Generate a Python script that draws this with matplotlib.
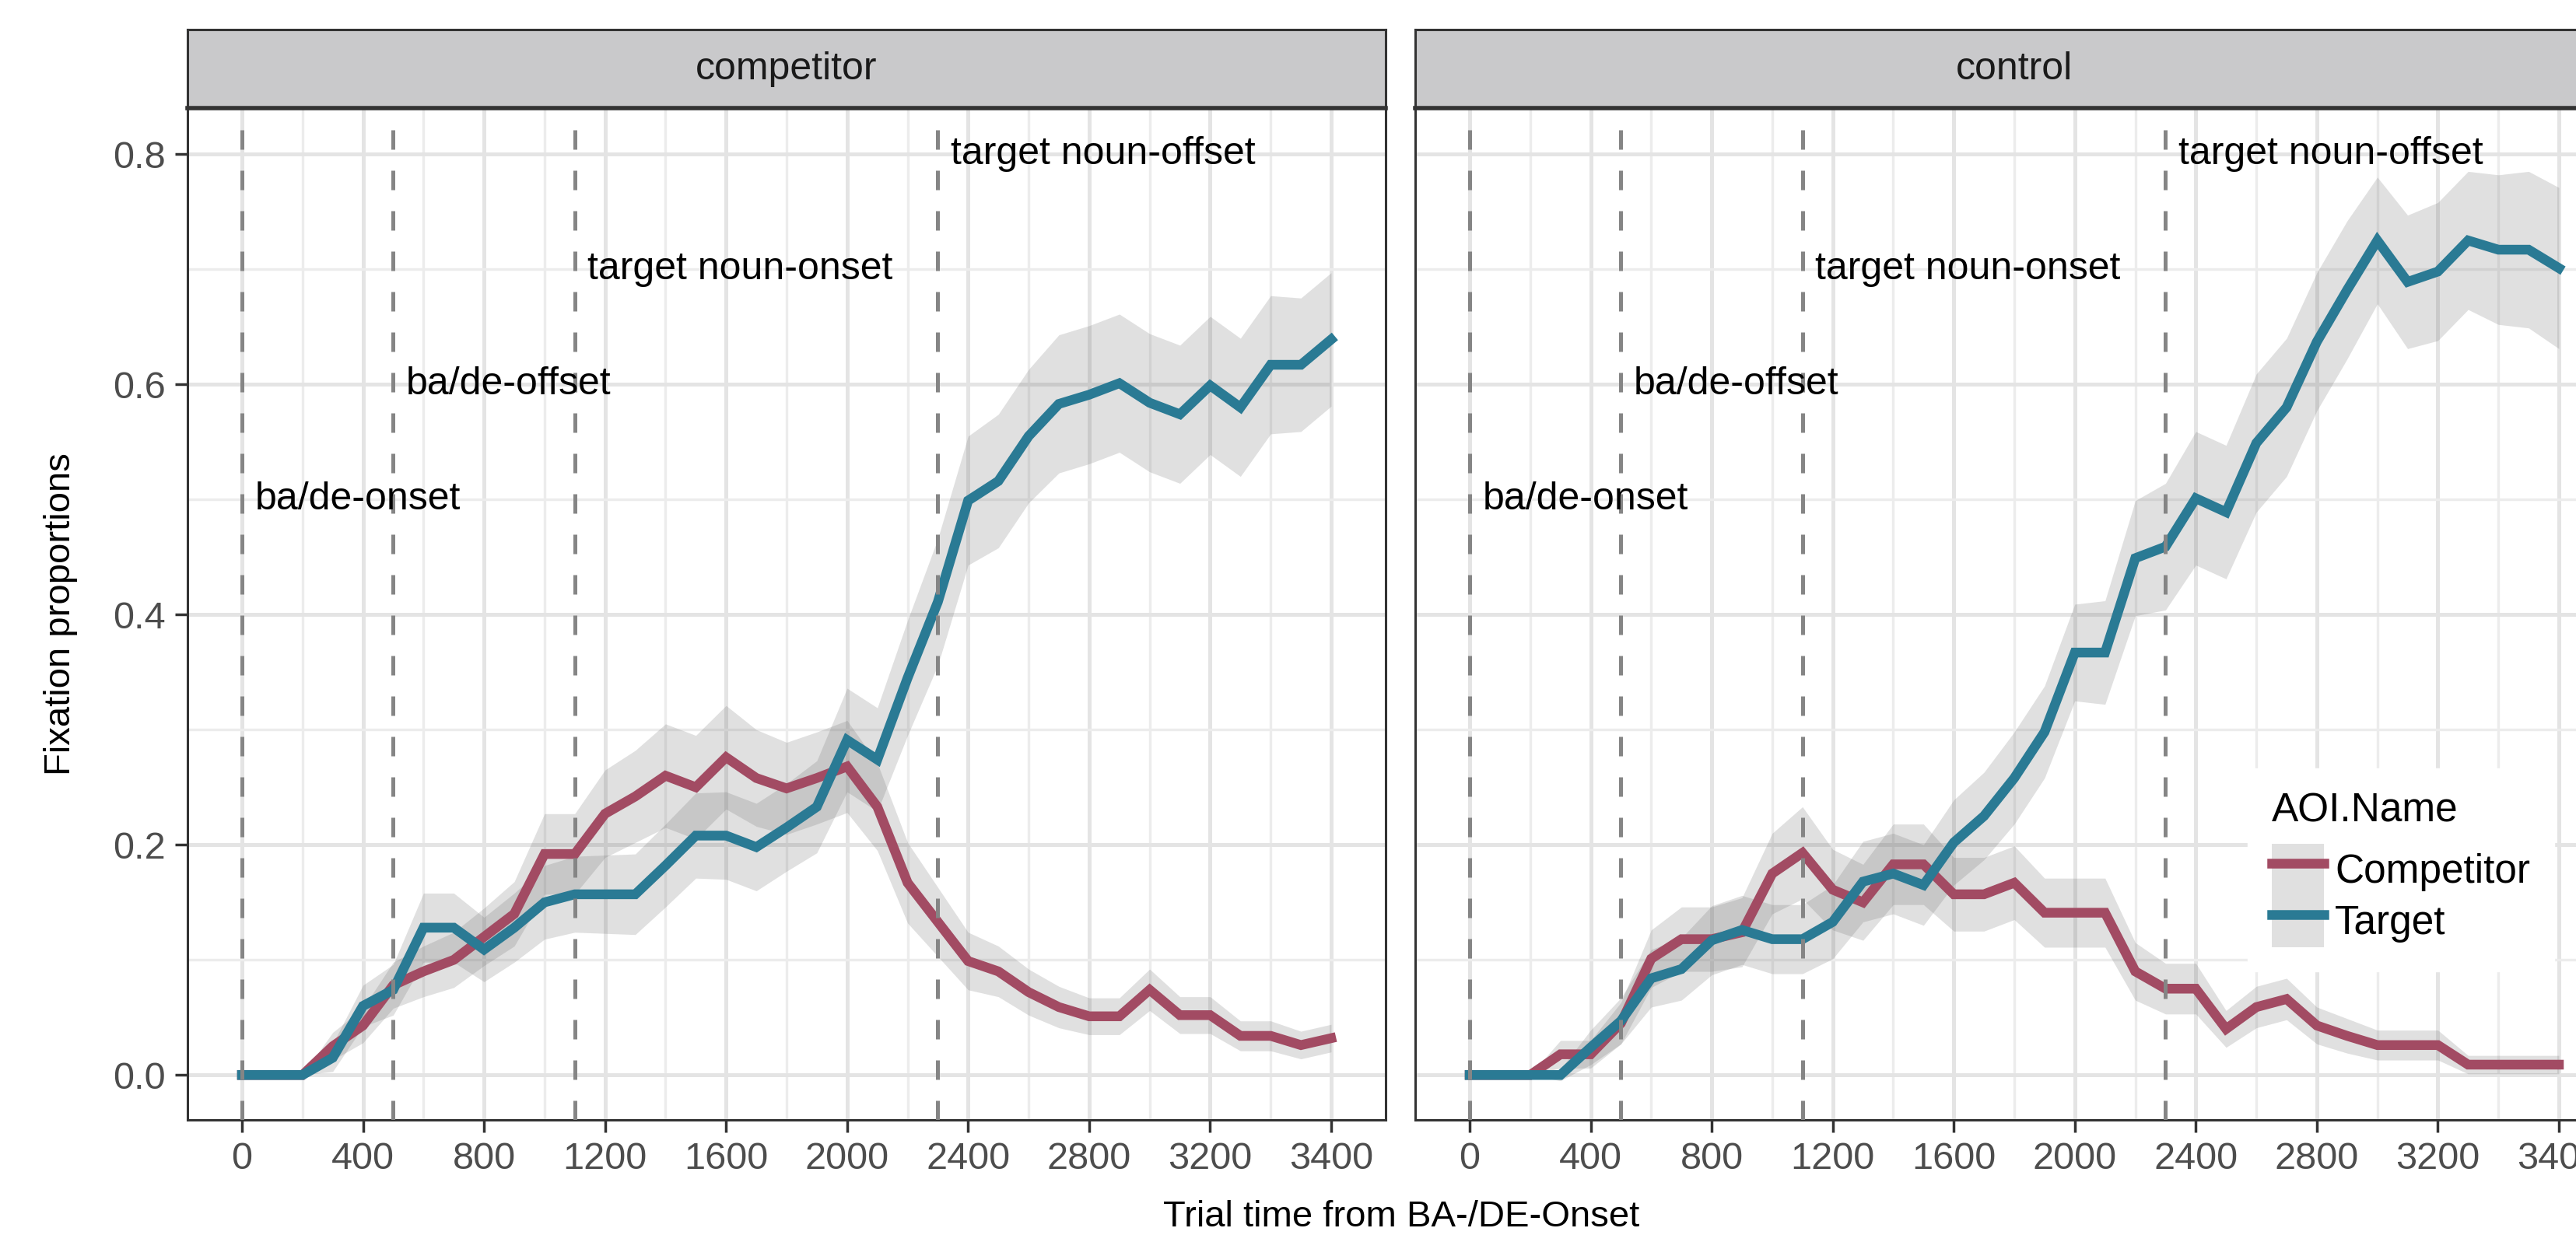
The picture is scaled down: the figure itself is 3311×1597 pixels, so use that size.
import matplotlib
matplotlib.use('Agg')
import numpy as np
from matplotlib import pyplot as plt
from matplotlib.lines import Line2D
from matplotlib.patches import Patch

plt.rcParams['font.family'] = ['Liberation Sans', 'DejaVu Sans']

# time bins (ms) and axis labels as printed on the figure
times = [0, 100, 200, 300, 400, 500, 600, 700, 800, 900, 1000, 1100, 1200,
         1300, 1400, 1500, 1600, 1700, 1800, 1900, 2000, 2100, 2200, 2300,
         2400, 2500, 2600, 2700, 2800, 2900, 3000, 3100, 3200, 3300, 3400,
         3500, 3600]
xtick_pos = [0, 400, 800, 1200, 1600, 2000, 2400, 2800, 3200, 3600]
xtick_labels = ['0', '400', '800', '1200', '1600', '2000', '2400', '2800',
                '3200', '3400']
ytick_pos = [0.0, 0.2, 0.4, 0.6, 0.8]
ytick_labels = ['0.0', '0.2', '0.4', '0.6', '0.8']

panels = ['competitor', 'control']
aoi_names = ['Competitor', 'Target']
aoi_colors = ['#a24b63', '#2a7a94']

# competitor condition
comp_competitor = [0, 0, 0, 0.025, 0.043, 0.078, 0.09, 0.1, 0.12, 0.14, 0.192,
                   0.192, 0.227, 0.242, 0.26, 0.25, 0.276, 0.258, 0.249, 0.258,
                   0.268, 0.233, 0.167, 0.133, 0.099, 0.09, 0.072, 0.059,
                   0.051, 0.051, 0.074, 0.052, 0.052, 0.034, 0.034, 0.026,
                   0.032]
comp_target = [0, 0, 0, 0.015, 0.06, 0.074, 0.128, 0.128, 0.109, 0.128, 0.15,
               0.157, 0.157, 0.157, 0.182, 0.208, 0.208, 0.198, 0.215, 0.233,
               0.291, 0.274, 0.345, 0.411, 0.499, 0.516, 0.555, 0.583, 0.591,
               0.601, 0.584, 0.574, 0.599, 0.58, 0.617, 0.617, 0.639]
comp_competitor_ci = [0, 0, 0, 0.012, 0.015, 0.02, 0.022, 0.024, 0.025, 0.028,
                      0.035, 0.035, 0.038, 0.04, 0.045, 0.045, 0.045, 0.042,
                      0.04, 0.04, 0.04, 0.038, 0.035, 0.03, 0.025, 0.022, 0.02,
                      0.018, 0.016, 0.016, 0.018, 0.016, 0.016, 0.013, 0.013,
                      0.012, 0.012]
comp_target_ci = [0, 0, 0, 0.012, 0.018, 0.022, 0.03, 0.03, 0.028, 0.03, 0.032,
                  0.033, 0.034, 0.035, 0.036, 0.037, 0.038, 0.038, 0.038, 0.04,
                  0.045, 0.045, 0.05, 0.055, 0.056, 0.058, 0.058, 0.06, 0.06,
                  0.06, 0.06, 0.06, 0.06, 0.06, 0.06, 0.058, 0.058]

# control condition
ctrl_competitor = [0, 0, 0, 0.018, 0.018, 0.045, 0.101, 0.118, 0.118, 0.124,
                   0.175, 0.193, 0.161, 0.150, 0.183, 0.183, 0.157, 0.157,
                   0.167, 0.141, 0.141, 0.141, 0.090, 0.075, 0.075, 0.040,
                   0.059, 0.066, 0.043, 0.034, 0.026, 0.026, 0.026, 0.009,
                   0.009, 0.009, 0.009]
ctrl_target = [0, 0, 0, 0, 0.024, 0.047, 0.084, 0.092, 0.117, 0.126, 0.118,
               0.118, 0.133, 0.168, 0.175, 0.165, 0.202, 0.225, 0.258, 0.298,
               0.367, 0.367, 0.449, 0.459, 0.501, 0.489, 0.549, 0.580, 0.637,
               0.682, 0.725, 0.689, 0.698, 0.725, 0.717, 0.717, 0.701]
ctrl_competitor_ci = [0, 0, 0, 0.012, 0.012, 0.018, 0.025, 0.028, 0.028, 0.03,
                      0.035, 0.04, 0.035, 0.033, 0.035, 0.035, 0.032, 0.032,
                      0.032, 0.03, 0.03, 0.03, 0.025, 0.022, 0.022, 0.016,
                      0.018, 0.018, 0.016, 0.015, 0.013, 0.013, 0.013, 0.008,
                      0.008, 0.008, 0.008]
ctrl_target_ci = [0, 0, 0, 0.005, 0.015, 0.02, 0.025, 0.027, 0.03, 0.03, 0.03,
                  0.03, 0.032, 0.035, 0.035, 0.035, 0.037, 0.038, 0.04, 0.04,
                  0.042, 0.045, 0.05, 0.055, 0.058, 0.058, 0.06, 0.06, 0.06,
                  0.06, 0.055, 0.058, 0.06, 0.06, 0.065, 0.068, 0.07]

# event markers
event_labels = ['ba/de-onset', 'ba/de-offset', 'target noun-onset',
                'target noun-offset']
event_x = [0, 500, 1100, 2300]
event_y = [0.5, 0.6, 0.7, 0.8]

panel_data = {
    'competitor': [(comp_competitor, comp_competitor_ci),
                   (comp_target, comp_target_ci)],
    'control': [(ctrl_competitor, ctrl_competitor_ci),
                (ctrl_target, ctrl_target_ci)],
}

W, H = 3312, 1597
fig = plt.figure(figsize=(W / 100, H / 100), dpi=100)

panel_left = [241, 1819]
panel_w = 1540
panel_top, panel_bot = 139, 1440
strip_top = 38
ribbon_col = '#666666'

x = np.array(times)
for i, name in enumerate(panels):
    ax = fig.add_axes([panel_left[i] / W, (H - panel_bot) / H,
                       panel_w / W, (panel_bot - panel_top) / H])
    ax.set_xlim(-180, 3780)
    ax.set_ylim(-0.039, 0.84)
    ax.set_xticks(xtick_pos)
    ax.set_xticklabels(xtick_labels)
    ax.set_xticks([200, 600, 1000, 1400, 1800, 2200, 2600, 3000, 3400],
                  minor=True)
    ax.set_yticks(ytick_pos)
    ax.set_yticks([0.1, 0.3, 0.5, 0.7], minor=True)
    ax.grid(which='major', color='#e4e4e4', lw=3.6, zorder=0)
    ax.grid(which='minor', color='#ececec', lw=2.4, zorder=0)
    ax.set_axisbelow(True)
    ax.tick_params(which='major', length=11.5, width=2.5, color='#333333',
                   labelsize=35, labelcolor='#4d4d4d', pad=9)
    ax.tick_params(which='minor', length=0)
    if i == 0:
        ax.set_yticklabels(ytick_labels)
    else:
        ax.tick_params(axis='y', which='both', left=False, labelleft=False)
    for sp in ax.spines.values():
        sp.set_color('#333333')
        sp.set_linewidth(2.2)

    for (vals, ci), col in zip(panel_data[name], aoi_colors):
        v = np.array(vals)
        c = np.array(ci)
        ax.fill_between(x, v - c, v + c, color=ribbon_col, alpha=0.2, lw=0,
                        zorder=2)
    for (vals, ci), col in zip(panel_data[name], aoi_colors):
        ax.plot(x, vals, color=col, lw=9, zorder=3, solid_joinstyle='miter')

    for lab, ex, ey in zip(event_labels, event_x, event_y):
        ax.axvline(ex, color='#858585', lw=3.6, ls=(0, (5.0, 5.4)), zorder=4)
        ax.annotate(lab, (ex, ey), xytext=(12, 0), textcoords='offset points',
                    ha='left', va='center', fontsize=36, color='black',
                    zorder=5)

    # facet strip
    sax = fig.add_axes([panel_left[i] / W, (H - panel_top) / H,
                        panel_w / W, (panel_top - strip_top) / H])
    sax.set_facecolor('#c9c9cb')
    sax.set_xticks([])
    sax.set_yticks([])
    for sp in sax.spines.values():
        sp.set_color('#333333')
        sp.set_linewidth(2.2)
    sax.spines['bottom'].set_linewidth(4)
    sax.text(0.5, 0.5, name, ha='center', va='center', fontsize=36,
             color='#1a1a1a', transform=sax.transAxes)

fig.text(78 / W, 1 - 790 / H, 'Fixation proportions', rotation=90,
         ha='center', va='center', fontsize=34)
fig.text(1801 / W, 1 - 1577 / H, 'Trial time from BA-/DE-Onset',
         ha='center', va='baseline', fontsize=34)

handles = [(Patch(facecolor=ribbon_col, alpha=0.2, lw=0),
            Line2D([], [], color=c, lw=9)) for c in aoi_colors]
leg = fig.legend(handles, aoi_names, title='AOI.Name', loc='upper left',
                 bbox_to_anchor=(2889 / W, 1 - 988 / H), fontsize=37,
                 title_fontsize=37, frameon=True, facecolor='white',
                 edgecolor='white', framealpha=1, fancybox=False,
                 handlelength=1.3, handleheight=1.62, handletextpad=0.28,
                 labelspacing=0.0, borderpad=0.6, borderaxespad=0,
                 alignment='left')
# gap between the legend title and the keys
leg._legend_box.sep = 12

fig.savefig('out.png', dpi=100)
